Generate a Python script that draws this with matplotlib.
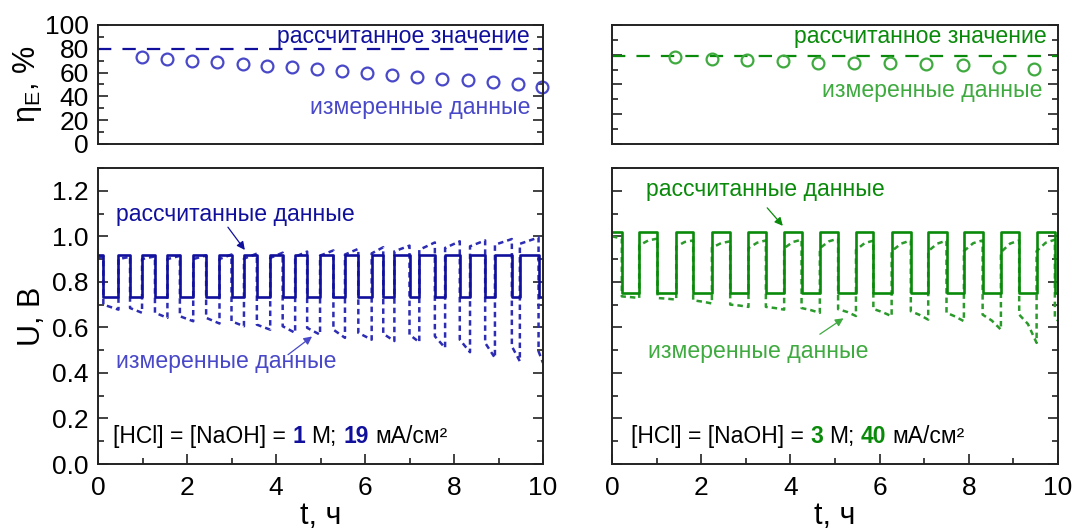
import numpy as np
import matplotlib
matplotlib.use("Agg")
import matplotlib.pyplot as plt
from matplotlib.ticker import MultipleLocator
from matplotlib.offsetbox import TextArea, HPacker, AnchoredOffsetbox

plt.rcParams['font.family'] = ['Liberation Sans', 'DejaVu Sans']
plt.rcParams['mathtext.fontset'] = 'custom'
plt.rcParams['mathtext.rm'] = 'Liberation Sans'
plt.rcParams['mathtext.it'] = 'Liberation Sans:italic'
plt.rcParams['mathtext.bf'] = 'Liberation Sans:bold'

# ---------------- data ----------------
# energy efficiency (top panels)
effL_t = [0.99, 1.55, 2.11, 2.67, 3.25, 3.79, 4.37, 4.93, 5.49, 6.05, 6.61, 7.17, 7.73, 8.31, 8.88, 9.44, 9.98]
effL = [73.3, 71.4, 69.4, 68.6, 67.2, 65.8, 64.4, 63.1, 61.4, 59.7, 58.3, 56.4, 55.0, 53.6, 51.9, 50.3, 48.3]
effL_calc = 80.0
effR_t = [1.42, 2.24, 3.03, 3.84, 4.63, 5.43, 6.24, 7.04, 7.86, 8.67, 9.46]
effR = [72.8, 71.7, 70.8, 70.0, 68.3, 68.1, 68.1, 67.2, 66.1, 64.7, 63.1]
effR_calc = 74.0

# voltage, left panel (1 M, 19 mA/cm2): switching times (h)
L_switch = [0.12, 0.46, 0.72, 0.99, 1.28, 1.56, 1.84, 2.14, 2.43, 2.73, 3.00, 3.28,
            3.57, 3.87, 4.15, 4.43, 4.70, 4.99, 5.29, 5.55, 5.85, 6.15, 6.41, 6.66,
            7.00, 7.22, 7.57, 7.80, 8.13, 8.36, 8.70, 8.92, 9.30, 9.48, 9.90]
L_calc_high = 0.918
L_calc_low = 0.732
# measured voltage at start / end of each segment (high, low, high, low, ...)
L_meas_start = [0.905, 0.700, 0.900, 0.685, 0.900, 0.664, 0.900, 0.649, 0.900, 0.642,
                0.900, 0.627, 0.902, 0.612, 0.905, 0.605, 0.910, 0.598, 0.915, 0.590,
                0.920, 0.576, 0.925, 0.572, 0.934, 0.568, 0.941, 0.561, 0.949, 0.546,
                0.956, 0.532, 0.963, 0.517, 0.967, 0.495]
L_meas_end = [0.910, 0.678, 0.910, 0.664, 0.912, 0.642, 0.914, 0.627, 0.916, 0.617,
              0.920, 0.605, 0.924, 0.590, 0.928, 0.576, 0.933, 0.568, 0.938, 0.554,
              0.945, 0.546, 0.952, 0.540, 0.959, 0.535, 0.973, 0.510, 0.978, 0.491,
              0.982, 0.466, 0.988, 0.451, 0.995, 0.444]

# voltage, right panel (3 M, 40 mA/cm2)
R_switch = [0.22, 0.61, 1.02, 1.44, 1.82, 2.24, 2.65, 3.06, 3.45, 3.86, 4.25, 4.66,
            5.07, 5.47, 5.86, 6.27, 6.70, 7.09, 7.50, 7.89, 8.31, 8.72, 9.13, 9.52, 9.93]
R_calc_high = 1.017
R_calc_low = 0.751
R_meas_start = [1.000, 0.736, 0.960, 0.729, 0.955, 0.719, 0.950, 0.700, 0.948, 0.690,
                0.948, 0.685, 0.948, 0.680, 0.940, 0.681, 0.935, 0.671, 0.935, 0.664,
                0.935, 0.656, 0.930, 0.656, 0.935, 0.640]
R_meas_mid = [0.995, 0.733, 0.982, 0.726, 0.975, 0.713, 0.970, 0.696, 0.972, 0.685,
              0.975, 0.676, 0.978, 0.668, 0.970, 0.667, 0.968, 0.655, 0.968, 0.648,
              0.970, 0.630, 0.968, 0.615, 0.972, 0.635]
R_meas_end = [0.990, 0.729, 0.990, 0.722, 0.982, 0.705, 0.978, 0.690, 0.982, 0.678,
              0.985, 0.664, 0.990, 0.650, 0.981, 0.649, 0.982, 0.634, 0.981, 0.627,
              0.982, 0.590, 0.982, 0.532, 0.985, 0.630]

T_MAX = 10.0

# ---------------- colours ----------------
L_dark = '#10109c'
L_meas = '#2c2cb4'
L_light = '#4848c8'
R_dark = '#0a8a0a'
R_meas = '#2a9a2a'
R_light = '#3faa3f'

# ---------------- helpers ----------------
def calc_path(switch, hi, lo):
    bounds = [0.0] + list(switch) + [T_MAX]
    xs, ys = [], []
    for i in range(len(bounds) - 1):
        lev = hi if i % 2 == 0 else lo
        xs += [bounds[i], bounds[i + 1]]
        ys += [lev, lev]
    return xs, ys

def meas_path(switch, *vals):
    bounds = [0.0] + list(switch) + [T_MAX]
    xs, ys = [], []
    n = len(vals)
    for i in range(len(bounds) - 1):
        a, b = bounds[i], bounds[i + 1]
        for j in range(n):
            xs.append(a + (b - a) * j / (n - 1))
            ys.append(vals[j][i])
    return xs, ys

# ---------------- figure ----------------
W, H = 1076, 531
fig = plt.figure(figsize=(W / 100, H / 100), dpi=100)

def ax_rect(x0, x1, y0, y1):
    return [x0 / W, 1 - y1 / H, (x1 - x0) / W, (y1 - y0) / H]

axTL = fig.add_axes(ax_rect(98, 543, 25, 144))
axTR = fig.add_axes(ax_rect(612, 1058, 25, 144))
axBL = fig.add_axes(ax_rect(98, 543, 168, 464))
axBR = fig.add_axes(ax_rect(612, 1058, 168, 464))

FS_TICK = 19
FS_LAB = 22
FS_ANN = 16.6

for ax in (axTL, axTR, axBL, axBR):
    for s in ax.spines.values():
        s.set_linewidth(1.4)
        s.set_color('#222222')
    ax.tick_params(which='both', direction='in', width=1.2, colors='#222222',
                   labelcolor='black', labelsize=FS_TICK)
    ax.tick_params(which='major', length=7)
    ax.tick_params(which='minor', length=4)
    ax.set_xlim(0, T_MAX)

# top panels
for ax in (axTL, axTR):
    ax.set_ylim(0, 100)
    ax.tick_params(axis='x', which='both', bottom=False, top=False, labelbottom=False)
    ax.tick_params(axis='y', which='both', left=True, right=True)
axTL.yaxis.set_major_locator(MultipleLocator(20))
axTL.yaxis.set_minor_locator(MultipleLocator(10))
axTL.tick_params(axis='y', pad=6.5)
axTR.yaxis.set_major_locator(MultipleLocator(25))
axTR.yaxis.set_minor_locator(MultipleLocator(12.5))
axTR.tick_params(axis='y', labelleft=False)

axTL.axhline(effL_calc, color=L_dark, lw=1.6, dashes=(6, 5))
axTL.plot(effL_t, effL, 'o', ms=8.5, mfc='none', mec=L_light, mew=1.6, clip_on=False)
axTR.axhline(effR_calc, color=R_dark, lw=1.6, dashes=(6, 5))
axTR.plot(effR_t, effR, 'o', ms=8.5, mfc='none', mec=R_light, mew=1.6, clip_on=False)

axTL.text(0.971, 0.905, 'рассчитанное значение', transform=axTL.transAxes,
          ha='right', va='center', fontsize=FS_ANN, color=L_dark)
axTL.text(0.971, 0.31, 'измеренные данные', transform=axTL.transAxes,
          ha='right', va='center', fontsize=FS_ANN, color=L_light)
axTR.text(0.975, 0.90, 'рассчитанное значение', transform=axTR.transAxes,
          ha='right', va='center', fontsize=FS_ANN, color=R_dark)
axTR.text(0.966, 0.45, 'измеренные данные', transform=axTR.transAxes,
          ha='right', va='center', fontsize=FS_ANN, color=R_light)

axTL.set_ylabel('η$_{\\mathrm{E}}$, %', fontsize=FS_LAB)
axTL.yaxis.set_label_coords(-0.122, 0.5)

# bottom panels
for ax in (axBL, axBR):
    ax.set_ylim(0, 1.3)
    ax.xaxis.set_major_locator(MultipleLocator(2))
    ax.xaxis.set_minor_locator(MultipleLocator(1))
    ax.yaxis.set_major_locator(MultipleLocator(0.2))
    ax.yaxis.set_minor_locator(MultipleLocator(0.1))
    ax.tick_params(axis='y', which='both', left=True, right=True)
    ax.tick_params(axis='x', which='both', bottom=True, top=False, pad=8.5)
    ax.set_xlabel('t, ч', fontsize=FS_LAB, labelpad=1)
axBL.yaxis.set_major_formatter(matplotlib.ticker.FormatStrFormatter('%.1f'))
axBL.tick_params(axis='y', pad=6.5)
axBR.tick_params(axis='y', labelleft=False)
axBL.set_ylabel('U, В', fontsize=FS_LAB)
axBL.yaxis.set_label_coords(-0.114, 0.5)

# left waveforms
xs, ys = meas_path(L_switch, L_meas_start, L_meas_end)
axBL.plot(xs, ys, color=L_meas, lw=1.8, dashes=(2.2, 1.6))
xs, ys = calc_path(L_switch, L_calc_high, L_calc_low)
axBL.plot(xs, ys, color=L_dark, lw=1.9)

# right waveforms
xs, ys = meas_path(R_switch, R_meas_start, R_meas_mid, R_meas_end)
axBR.plot(xs, ys, color=R_meas, lw=1.8, dashes=(2.2, 1.6))
xs, ys = calc_path(R_switch, R_calc_high, R_calc_low)
axBR.plot(xs, ys, color=R_dark, lw=1.9)

# annotations with arrows
arrow_kw = dict(arrowstyle='-|>', lw=0.9, mutation_scale=12, shrinkA=0, shrinkB=0)
axBL.annotate('', xy=(3.30, 0.94), xytext=(2.92, 1.04),
              arrowprops=dict(color=L_dark, **arrow_kw))
axBL.text(3.08, 1.095, 'рассчитанные данные', ha='center', va='center',
          fontsize=FS_ANN, color=L_dark)
axBL.annotate('', xy=(4.81, 0.56), xytext=(4.27, 0.48),
              arrowprops=dict(color=L_light, **arrow_kw))
axBL.text(2.88, 0.45, 'измеренные данные', ha='center', va='center',
          fontsize=FS_ANN, color=L_light)

axBR.annotate('', xy=(3.83, 1.046), xytext=(3.48, 1.125),
              arrowprops=dict(color=R_dark, **arrow_kw))
axBR.text(3.43, 1.204, 'рассчитанные данные', ha='center', va='center',
          fontsize=FS_ANN, color=R_dark)
axBR.annotate('', xy=(5.19, 0.64), xytext=(4.66, 0.57),
              arrowprops=dict(color=R_light, **arrow_kw))
axBR.text(3.27, 0.494, 'измеренные данные', ha='center', va='center',
          fontsize=FS_ANN, color=R_light)

# condition labels
def cond_label(ax, conc, cur, col, x0):
    FS = 16.5
    parts = [TextArea('[HCl] = [NaOH] =', textprops=dict(fontsize=FS, color='black')),
             TextArea(conc, textprops=dict(fontsize=FS, color=col, weight='bold')),
             TextArea('М;', textprops=dict(fontsize=FS, color='black')),
             TextArea(cur, textprops=dict(fontsize=FS, color=col, weight='bold')),
             TextArea('мА/см²', textprops=dict(fontsize=FS, color='black'))]
    box = HPacker(children=parts, align='baseline', pad=0, sep=4.6)
    anc = AnchoredOffsetbox(loc='center left', child=box, pad=0, borderpad=0,
                            frameon=False, bbox_to_anchor=(x0, 0.092),
                            bbox_transform=ax.transAxes)
    ax.add_artist(anc)

cond_label(axBL, '1', '19', L_dark, 0.034)
cond_label(axBR, '3', '40', R_dark, 0.042)

fig.savefig('out.png', dpi=100)
